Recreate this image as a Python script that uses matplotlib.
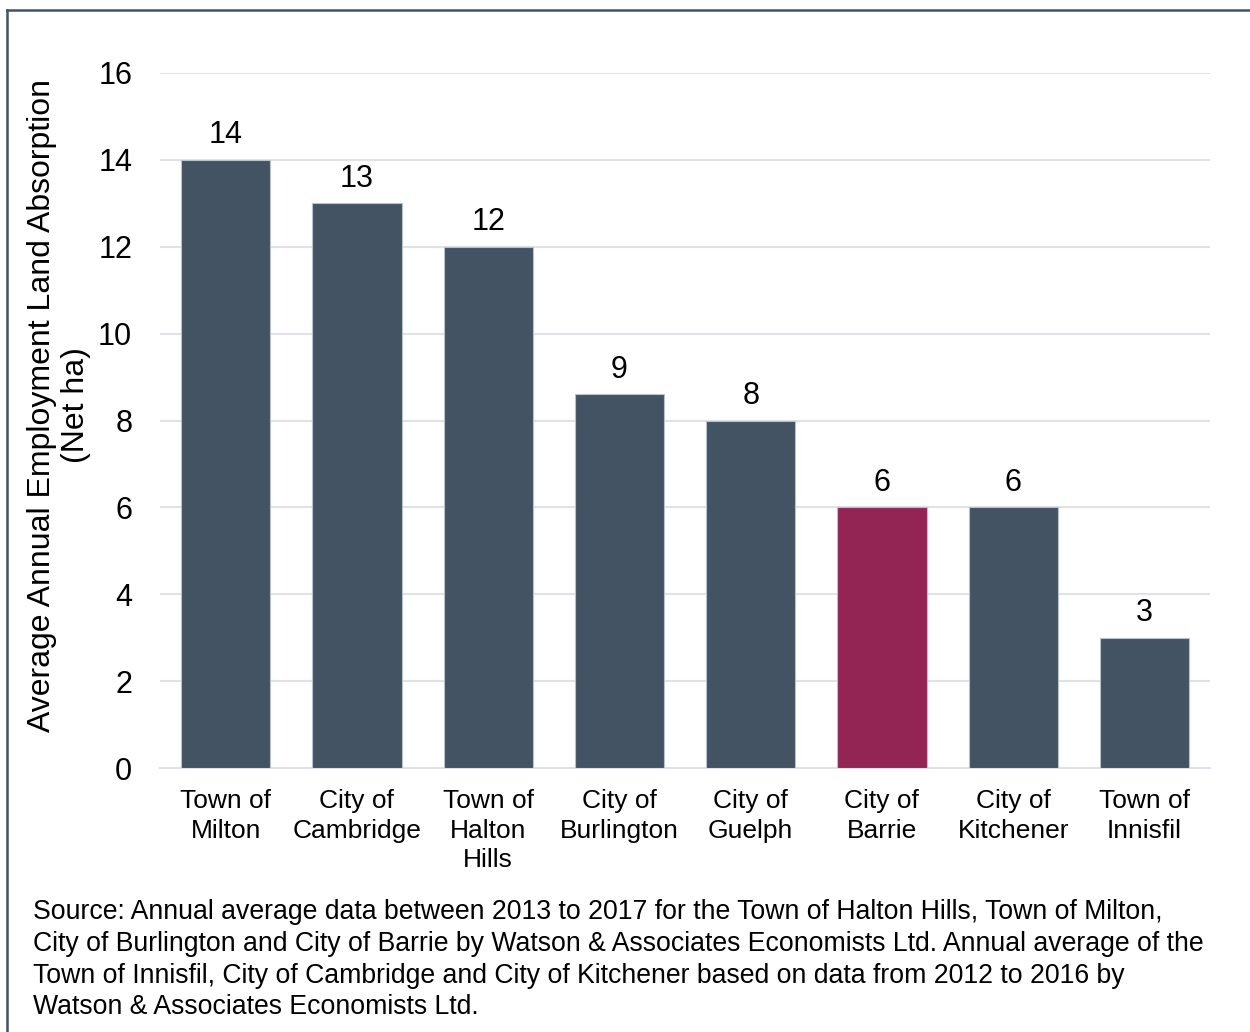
import numpy as np
import matplotlib
matplotlib.use("Agg")
import matplotlib.pyplot as plt
from matplotlib.lines import Line2D

plt.rcParams['font.family'] = ['Liberation Sans', 'DejaVu Sans']

# data
places = ["Town of\nMilton", "City of\nCambridge", "Town of\nHalton\nHills", "City of\nBurlington",
          "City of\nGuelph", "City of\nBarrie", "City of\nKitchener", "Town of\nInnisfil"]
absorption = [14, 13, 12, 8.6, 8, 6, 6, 3]
bar_labels = ["14", "13", "12", "9", "8", "6", "6", "3"]
highlight = "City of\nBarrie"

source_note = ("Source: Annual average data between 2013 to 2017 for the Town of Halton Hills, Town of Milton,\n"
               "City of Burlington and City of Barrie by Watson & Associates Economists Ltd. Annual average of the\n"
               "Town of Innisfil, City of Cambridge and City of Kitchener based on data from 2012 to 2016 by\n"
               "Watson & Associates Economists Ltd.")

W, H = 1250, 1032
fig = plt.figure(figsize=(W / 100, H / 100), dpi=100)
ax = fig.add_axes([160 / W, 1 - 768 / H, 1050 / W, 695 / H])

base = "#435363"
barrie = "#922553"
colors = [barrie if p == highlight else base for p in places]
x = np.arange(len(places))
bars = ax.bar(x, absorption, width=0.68, color=colors, edgecolor="#b8c2cc", linewidth=0.8, zorder=3)

for b, lab in zip(bars, bar_labels):
    ax.annotate(lab, (b.get_x() + b.get_width() / 2, b.get_height()), xytext=(0, 7),
                textcoords="offset points", ha="center", va="bottom", fontsize=22)

ax.set_xlim(-0.5, len(places) - 0.5)
ax.set_ylim(0, 16)
ax.set_yticks(range(0, 17, 2))
ax.grid(axis="y", color="#dfe3e8", linewidth=1.5, zorder=0)
for s in ["top", "right", "left"]:
    ax.spines[s].set_visible(False)
ax.spines["bottom"].set_color("#dfe3e8")
ax.spines["bottom"].set_linewidth(1.5)
ax.tick_params(axis="y", length=0, labelsize=22, pad=20)
ax.tick_params(axis="x", length=0, labelsize=19, pad=15)
ax.set_xticks(x)
ax.set_xticklabels(places, linespacing=1.3)

# y axis title, placed by hand so it sits where the original does
fig.text(59 / W, 1 - 405 / H, "Average Annual Employment Land Absorption\n(Net ha)",
         rotation=90, ha="center", va="center", multialignment="center", fontsize=23, linespacing=1.2)

fig.text(33 / W, 1 - 899 / H, source_note, ha="left", va="top", fontsize=19.2, linespacing=1.29)

# frame around the figure (top and left edges only)
fig.add_artist(Line2D([7 / W, 1.0], [1 - 10 / H, 1 - 10 / H], color=base, linewidth=1.8, transform=fig.transFigure))
fig.add_artist(Line2D([7 / W, 7 / W], [0.0, 1 - 10 / H], color=base, linewidth=1.8, transform=fig.transFigure))

fig.savefig("out.png", dpi=100)
